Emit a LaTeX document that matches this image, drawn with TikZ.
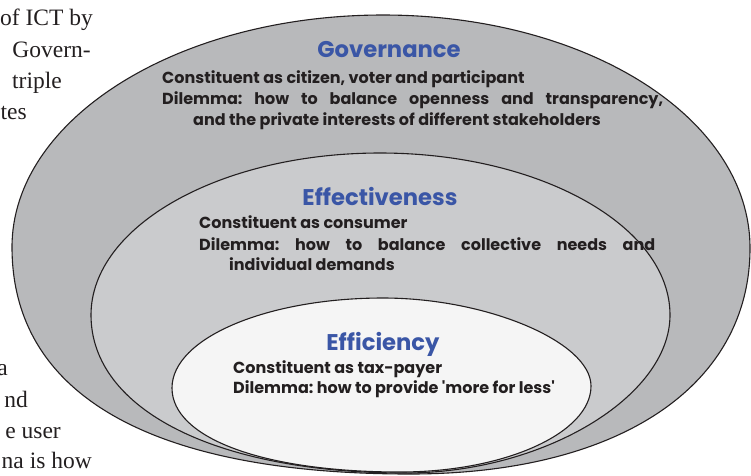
\documentclass[tikz,border=0pt]{standalone}
\usepackage{fontspec}
\setmainfont{Liberation Serif}
\newfontfamily\gothic{Poppins}
\definecolor{ink}{RGB}{35,31,32}
\definecolor{titleblue}{RGB}{58,86,166}
\definecolor{govgray}{RGB}{184,185,187}
\definecolor{effgray}{RGB}{202,203,205}
\definecolor{fficol}{RGB}{245,245,245}

\begin{document}
\begin{tikzpicture}[x=1pt,y=-1pt,
  ring/.style={draw=ink,line width=1.1pt},
  heading/.style={font=\gothic\bfseries\fontsize{22.7}{27}\selectfont,text=titleblue,inner sep=0pt,anchor=base},
  body/.style={font=\gothic\bfseries\fontsize{16}{19}\selectfont\frenchspacing,text=ink,inner sep=0pt,anchor=base west},
  pagetext/.style={font=\fontsize{23.5}{30}\selectfont,text=ink,inner sep=0pt,anchor=base east}]
\useasboundingbox (0,0) rectangle (751,475);

\node[pagetext] (p1) at (93,25) {of ICT by};
\node[pagetext] (p2) at (91,57) {Govern-};
\node[pagetext] (p3) at (62,88) {triple};
\node[pagetext] (p4) at (27,119) {tes};
\node[pagetext] (p5) at (8,375) {a};
\node[pagetext] (p6) at (28,407) {nd};
\node[pagetext] (p7) at (61,438) {e user};
\node[pagetext] (p8) at (92,468) {na is how};

% egg shapes, all touching near the bottom
\draw[ring,fill=govgray] (12,247) .. controls (12,119) and (178,15) .. (383,15)
  .. controls (587,15) and (750,118) .. (750,248)
  .. controls (750,386) and (619,474) .. (410,474)
  .. controls (155,474) and (12,397) .. cycle;
\draw[ring,fill=effgray] (91,315) .. controls (91,226) and (220,153) .. (380,153)
  .. controls (540,153) and (670,226) .. (670,315)
  .. controls (670,397) and (543,473) .. (405,473)
  .. controls (217,473) and (91,410) .. cycle;
\draw[ring,fill=fficol] (172,388) .. controls (172,338) and (267,298) .. (383,298)
  .. controls (487,298) and (591,342) .. (591,386)
  .. controls (591,433) and (505,472) .. (400,472)
  .. controls (263,472) and (172,438) .. cycle;

\node[heading] (gov) at (389,57) {Governance};
\node[body] (gov1) at (162,83) {Constituent as citizen, voter and participant};
\node[body] (gov2) at (162,104) {\makebox[501pt][s]{Dilemma: how to balance openness and transparency,}};
\node[body] (gov3) at (193,125) {and the private interests of different stakeholders};

\node[heading] (eff) at (380,205) {Effectiveness};
\node[body] (eff1) at (199,228) {Constituent as consumer};
\node[body] (eff2) at (199,250) {\makebox[456pt][s]{Dilemma: how to balance collective needs and}};
\node[body] (eff3) at (229,270) {individual demands};

\node[heading] (effi) at (383,350) {Efficiency};
\node[body] (effi1) at (233,373) {Constituent as tax-payer};
\node[body] (effi2) at (233,393) {Dilemma: how to provide 'more for less'};
\end{tikzpicture}
\end{document}
